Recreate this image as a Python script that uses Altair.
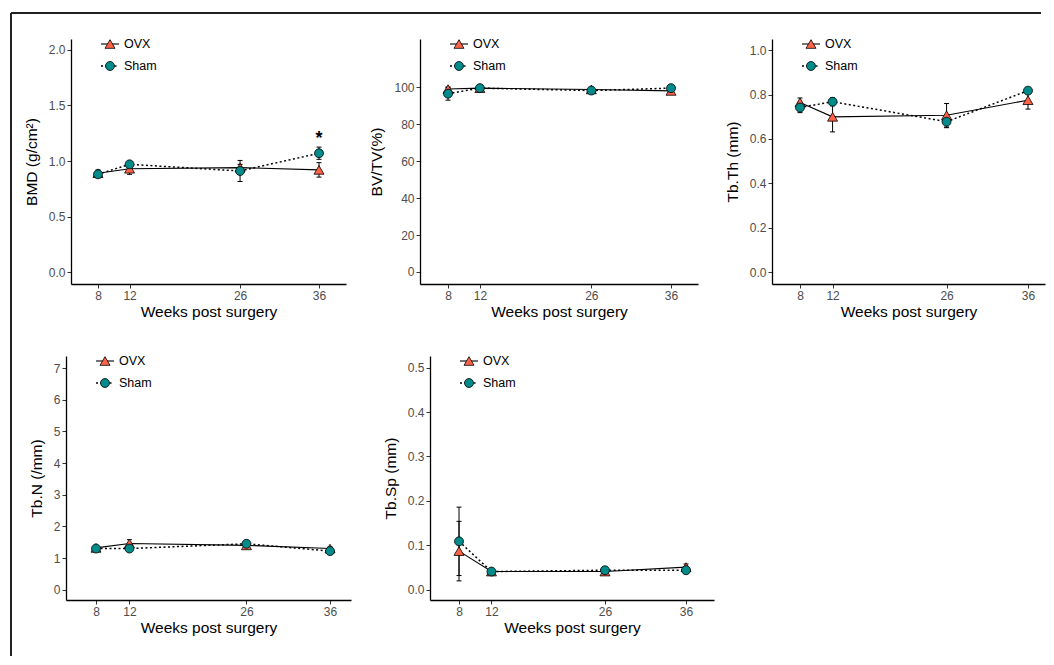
import altair as alt
import pandas as pd

FONT = "Liberation Sans"

weeks = [8, 12, 26, 36]
groups = ["OVX", "Sham"]
x_ticks = [8, 12, 26, 36]
x_title = "Weeks post surgery"

# BMD (g/cm2)
bmd_ovx = [0.89, 0.93, 0.94, 0.92]
bmd_ovx_err = [0.03, 0.05, 0.03, 0.065]
bmd_sham = [0.88, 0.97, 0.91, 1.07]
bmd_sham_err = [0.02, 0.02, 0.095, 0.055]
bmd_ticks = [0.0, 0.5, 1.0, 1.5, 2.0]

# BV/TV (%)
bvtv_ovx = [99.0, 99.5, 98.8, 98.0]
bvtv_ovx_err = [1.0, 0.5, 0.5, 0.5]
bvtv_sham = [96.5, 99.5, 98.2, 99.5]
bvtv_sham_err = [3.5, 0.5, 0.5, 0.5]
bvtv_ticks = [0, 20, 40, 60, 80, 100]

# Tb.Th (mm)
tbth_ovx = [0.765, 0.700, 0.707, 0.775]
tbth_ovx_err = [0.02, 0.068, 0.053, 0.04]
tbth_sham = [0.742, 0.768, 0.678, 0.818]
tbth_sham_err = [0.023, 0.018, 0.027, 0.01]
tbth_ticks = [0.0, 0.2, 0.4, 0.6, 0.8, 1.0]

# Tb.N (/mm)
tbn_ovx = [1.32, 1.46, 1.40, 1.30]
tbn_ovx_err = [0.05, 0.12, 0.06, 0.05]
tbn_sham = [1.30, 1.30, 1.45, 1.22]
tbn_sham_err = [0.05, 0.05, 0.05, 0.04]
tbn_ticks = [0, 1, 2, 3, 4, 5, 6, 7]

# Tb.Sp (mm)
tbsp_ovx = [0.087, 0.041, 0.041, 0.051]
tbsp_ovx_err = [0.067, 0.004, 0.004, 0.007]
tbsp_sham = [0.109, 0.041, 0.044, 0.044]
tbsp_sham_err = [0.077, 0.003, 0.004, 0.004]
tbsp_ticks = [0.0, 0.1, 0.2, 0.3, 0.4, 0.5]

# significance marker
star_week = [36]
star_value = [1.20]
star_label = ["*"]

OVX_FILL = "tomato"
SHAM_FILL = "darkcyan"


def make_df(ovx, oe, sham, se):
    rows = []
    for g, m, e in [(groups[0], ovx, oe), (groups[1], sham, se)]:
        for w, mv, ev in zip(weeks, m, e):
            rows.append({"week": w, "group": g, "mean": mv, "lo": mv - ev, "hi": mv + ev})
    return pd.DataFrame(rows)


def panel(ovx, oe, sham, se, ytitle, ydomain, yticks, yfmt, xdomain, xrange, cell_w, height,
          star=False, frame=False):
    x0 = xrange[0]
    df = make_df(ovx, oe, sham, se)
    xscale = alt.Scale(domain=xdomain, range=xrange, nice=False, zero=False)
    yscale = alt.Scale(domain=ydomain, nice=False, zero=False)
    xaxis = alt.Axis(values=x_ticks, title=x_title, grid=False)
    yaxis = alt.Axis(values=yticks, title=ytitle, grid=False, format=yfmt, offset=-x0)

    def X(f="week"):
        return alt.X(f + ":Q", scale=xscale, axis=xaxis)

    def Y(f):
        return alt.Y(f + ":Q", scale=yscale, axis=yaxis)

    base = alt.Chart(df)
    ovx_df = base.transform_filter(alt.datum.group == groups[0])
    sham_df = base.transform_filter(alt.datum.group == groups[1])

    ovx_line = ovx_df.mark_line(color="black", strokeWidth=1.1).encode(x=X(), y=Y("mean"))
    sham_line = sham_df.mark_line(color="black", strokeWidth=1.5, strokeDash=[2, 2.5]).encode(
        x=X(), y=Y("mean"))
    err = base.mark_rule(color="black", strokeWidth=1).encode(x=X(), y=Y("lo"), y2="hi:Q")
    cap_lo = base.mark_rule(color="black", strokeWidth=1, xOffset=-2.5, x2Offset=2.5).encode(
        x=X(), x2="week:Q", y=Y("lo"))
    cap_hi = base.mark_rule(color="black", strokeWidth=1, xOffset=-2.5, x2Offset=2.5).encode(
        x=X(), x2="week:Q", y=Y("hi"))
    ovx_pts = ovx_df.mark_point(shape="triangle-up", filled=True, fill=OVX_FILL, stroke="black",
                                strokeWidth=0.8, size=100, opacity=1).encode(x=X(), y=Y("mean"))
    sham_pts = sham_df.mark_point(shape="circle", filled=True, fill=SHAM_FILL, stroke="black",
                                  strokeWidth=0.8, size=80, opacity=1).encode(x=X(), y=Y("mean"))

    one = pd.DataFrame({"g": groups})
    leg_ovx = alt.Chart(one).transform_filter(alt.datum.g == groups[0])
    leg_sham = alt.Chart(one).transform_filter(alt.datum.g == groups[1])
    leg = [
        leg_ovx.mark_rule(color="black", strokeWidth=1.1).encode(
            x=alt.value(x0 + 30), x2=alt.value(x0 + 48), y=alt.value(5)),
        leg_ovx.mark_point(shape="triangle-up", filled=True, fill=OVX_FILL, stroke="black",
                           strokeWidth=0.8, size=100, opacity=1).encode(
            x=alt.value(x0 + 39), y=alt.value(5)),
        leg_ovx.mark_text(align="left", baseline="middle", fontSize=12.5, font=FONT, color="black").encode(
            x=alt.value(x0 + 53), y=alt.value(5), text="g:N"),
        leg_sham.mark_rule(color="black", strokeWidth=1.5, strokeDash=[2, 2.5]).encode(
            x=alt.value(x0 + 30), x2=alt.value(x0 + 48), y=alt.value(27)),
        leg_sham.mark_point(shape="circle", filled=True, fill=SHAM_FILL, stroke="black",
                            strokeWidth=0.8, size=80, opacity=1).encode(
            x=alt.value(x0 + 39), y=alt.value(27)),
        leg_sham.mark_text(align="left", baseline="middle", fontSize=12.5, font=FONT, color="black").encode(
            x=alt.value(x0 + 53), y=alt.value(27), text="g:N"),
    ]
    layers = [ovx_line, sham_line, err, cap_lo, cap_hi, ovx_pts, sham_pts] + leg
    if star:
        sdf = pd.DataFrame({"week": star_week, "v": star_value, "t": star_label})
        layers.append(alt.Chart(sdf).mark_text(fontSize=18, font=FONT, color="black",
                                               fontWeight="bold", baseline="middle").encode(
            x=X(), y=Y("v"), text="t:N"))
    if frame:
        fr = pd.DataFrame({"a": [0]})
        layers.append(alt.Chart(fr).mark_rule(color="#222222", strokeWidth=2).encode(
            x=alt.value(-55), x2=alt.value(975), y=alt.value(-26)))
        layers.append(alt.Chart(fr).mark_rule(color="#222222", strokeWidth=2).encode(
            x=alt.value(-55), y=alt.value(-26), y2=alt.value(617)))
    return alt.layer(*layers).properties(width=cell_w, height=height)


COL1_W = 314
COL2_W = 312

p1 = panel(bmd_ovx, bmd_ovx_err, bmd_sham, bmd_sham_err, "BMD (g/cm²)", [-0.108, 2.099],
           bmd_ticks, ".1f", [4.58, 39.42], [5, 280], COL1_W, 245, star=True, frame=True)
p2 = panel(bvtv_ovx, bvtv_ovx_err, bvtv_sham, bvtv_sham_err, "BV/TV(%)", [-6.5, 126.1],
           bvtv_ticks, "d", [4.48, 39.39], [0, 278], COL2_W, 245)
p3 = panel(tbth_ovx, tbth_ovx_err, tbth_sham, tbth_sham_err, "Tb.Th (mm)", [-0.054, 1.051],
           tbth_ticks, ".1f", [4.56, 38.09], [0, 273], 273, 245)
p4 = panel(tbn_ovx, tbn_ovx_err, tbn_sham, tbn_sham_err, "Tb.N (/mm)", [-0.325, 7.38],
           tbn_ticks, "d", [4.41, 38.51], [0, 285], COL1_W, 244)
p5 = panel(tbsp_ovx, tbsp_ovx_err, tbsp_sham, tbsp_sham_err, "Tb.Sp (mm)", [-0.023, 0.526],
           tbsp_ticks, ".1f", [4.42, 39.45], [10, 294], COL2_W, 244)

chart = alt.concat(
    p1, p2, p3, p4, p5, columns=3, bounds="flush", align="each",
    spacing={"row": 72, "column": 40},
).properties(
    padding={"left": 1, "top": 3, "right": 0, "bottom": 0},
    background="white",
).configure_view(stroke="transparent").configure_axis(
    labelFont=FONT, titleFont=FONT, labelFontSize=12, titleFontSize=15.5,
    labelColor="#4D4D4D", titleColor="black", titleFontWeight="normal",
    domainColor="black", domainWidth=1.3, tickColor="#333333", tickSize=4,
    labelPadding=2, titlePadding=9,
).configure_axisX(titlePadding=3)

chart.save("out.html", embed_options={"renderer": "svg", "actions": False})
